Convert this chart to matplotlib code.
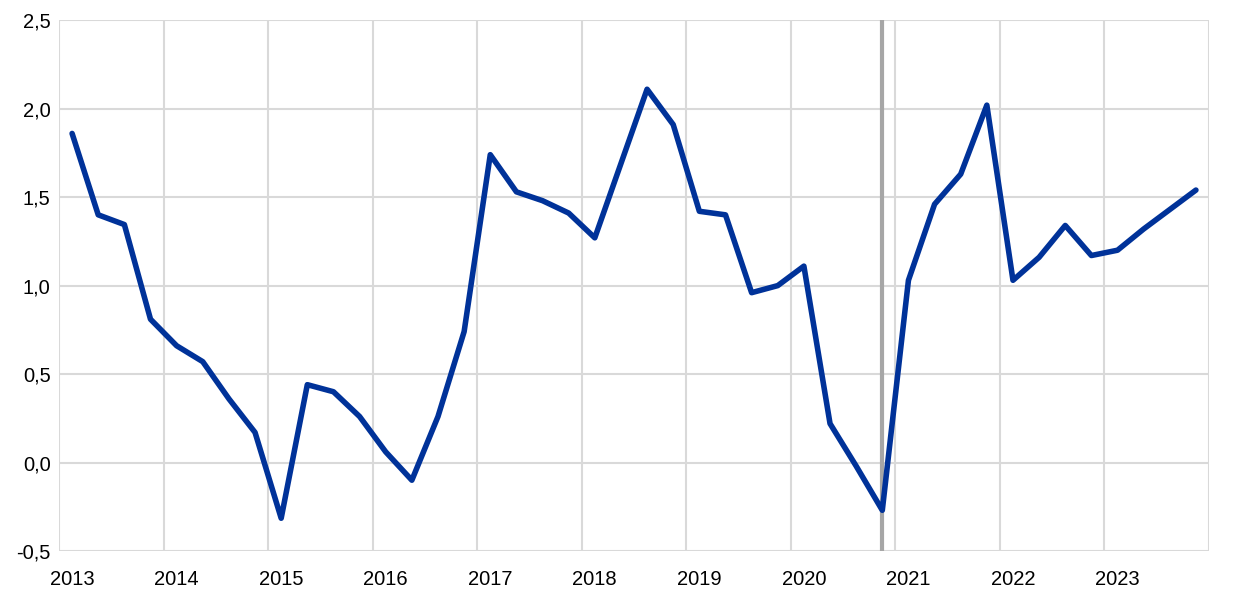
import numpy as np
import matplotlib.pyplot as plt
from matplotlib.ticker import FuncFormatter

# quarterly series, 2013Q1 - 2023Q4
years = list(range(2013, 2024))
values = [1.86, 1.40, 1.345, 0.81,
          0.66, 0.57, 0.36, 0.17,
          -0.315, 0.44, 0.40, 0.26,
          0.06, -0.10, 0.26, 0.74,
          1.74, 1.53, 1.48, 1.41,
          1.27, 1.69, 2.11, 1.91,
          1.42, 1.40, 0.96, 1.00,
          1.11, 0.22, -0.02, -0.27,
          1.03, 1.46, 1.63, 2.02,
          1.03, 1.16, 1.34, 1.17,
          1.20, 1.32, 1.43, 1.54]
marker_quarter = (2020, 4)  # vertical line

plt.rcParams['font.family'] = ['Liberation Sans', 'DejaVu Sans']

# points sit mid-quarter
x = np.array([years[0] + (i + 0.5) / 4 for i in range(len(values))])

fig = plt.figure(figsize=(12.4, 5.95), dpi=100)
ax = fig.add_axes([0.0476, 0.074, 0.9274, 0.892])

grid_color = '#D9D9D9'
for yr in range(years[0], years[-1] + 2):
    ax.axvline(yr, color=grid_color, lw=1.5, zorder=1)
for yv in np.arange(-0.5, 2.51, 0.5):
    ax.axhline(yv, color=grid_color, lw=1.5, zorder=1)

mq = marker_quarter[0] + (marker_quarter[1] - 0.5) / 4
ax.axvline(mq, color='#A6A6A6', lw=3, zorder=2)

ax.plot(x, values, color='#003299', lw=4, solid_joinstyle='round',
        solid_capstyle='round', zorder=3)

ax.set_xlim(years[0], years[-1] + 1)
ax.set_ylim(-0.5, 2.5)
ax.set_xticks([yr + 0.125 for yr in years])
ax.set_xticklabels([str(yr) for yr in years])
ax.set_yticks(np.arange(-0.5, 2.51, 0.5))
ax.yaxis.set_major_formatter(FuncFormatter(lambda v, p: f'{v:.1f}'.replace('.', ',')))
ax.tick_params(length=0, labelsize=14.5, colors='black')
ax.tick_params(axis='y', pad=6)
ax.tick_params(axis='x', pad=14)
for s in ax.spines.values():
    s.set_visible(False)

fig.savefig('out.png', dpi=100)
